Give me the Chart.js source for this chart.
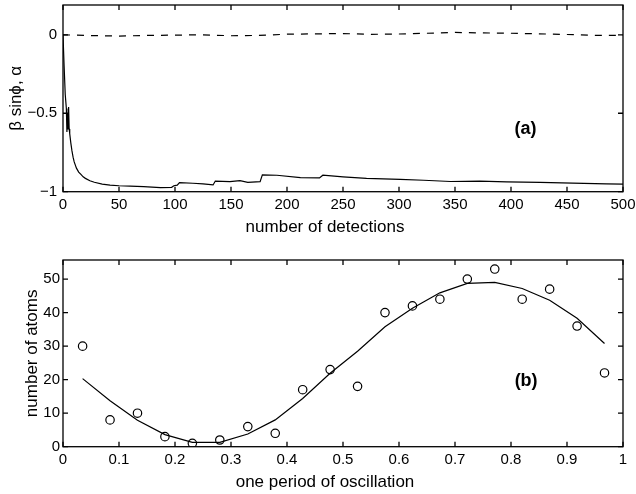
<!DOCTYPE html>
<html><head><meta charset="utf-8">
<script src="https://cdn.jsdelivr.net/npm/chart.js@4.4.0/dist/chart.umd.min.js"></script>
<style>
html,body{margin:0;padding:0;background:#fff;}
#c1{position:absolute;left:0;top:0;}
#c2{position:absolute;left:0;top:245px;}
</style></head><body>
<canvas id="c1" width="636" height="245"></canvas>
<canvas id="c2" width="636" height="249"></canvas>
<script>
// ---- panel (a) ----
const detections = [0,1,2,3,3.5,4,4.5,5,5.5,6,7,8,9,10,12,14,16,18,20,24,28,35,42,50,60,72,87,97,99,102,104,116,125,134,136,149,158,165,176,178,191,212,229,232,250,271,301,322,346,372,396,426,455,485,500];
const betaSinPhi = [0,-0.2,-0.38,-0.47,-0.62,-0.5,-0.6,-0.46,-0.6,-0.63,-0.69,-0.74,-0.78,-0.81,-0.85,-0.875,-0.89,-0.905,-0.915,-0.93,-0.94,-0.952,-0.958,-0.962,-0.965,-0.968,-0.974,-0.972,-0.962,-0.958,-0.942,-0.946,-0.95,-0.957,-0.932,-0.936,-0.93,-0.94,-0.936,-0.893,-0.895,-0.91,-0.912,-0.895,-0.905,-0.915,-0.922,-0.927,-0.935,-0.932,-0.937,-0.94,-0.945,-0.95,-0.952];
const alphaDetections = [0,25,50,75,100,125,150,175,200,225,250,275,300,325,350,375,400,425,450,475,500];
const alphaValues = [0,-0.005,-0.008,-0.004,-0.002,0,-0.006,-0.004,0.004,0.006,0.008,0.003,0.005,0.01,0.015,0.012,0.01,0.006,0.002,-0.003,-0.003];
const xTicksA = [0,50,100,150,200,250,300,350,400,450,500];
const yTicksA = [-1,-0.5,0];

// ---- panel (b) ----
const phase = [0.035,0.084,0.133,0.182,0.231,0.280,0.330,0.379,0.428,0.477,0.526,0.575,0.624,0.673,0.722,0.771,0.820,0.869,0.918,0.967];
const atomCounts = [30,8,10,3,1,2,6,4,17,23,18,40,42,44,50,53,44,47,36,22];
const fitCounts = [20.3,13.7,7.9,3.6,1.3,1.3,3.8,8,14.4,21.9,28.5,35.8,41.3,45.9,48.7,49,47.2,43.7,38.3,30.8];
const xTicksB = [0,0.1,0.2,0.3,0.4,0.5,0.6,0.7,0.8,0.9,1];
const yTicksB = [0,10,20,30,40,50];

const FONT = '"Liberation Sans", Arial, Helvetica, sans-serif';
const fmt = v => (v < 0 ? '\u2212' + Math.abs(v) : String(v));

const frameTicks = {
  id: 'frameTicks',
  afterDatasetsDraw(chart, args, opts) {
    const {ctx, chartArea: a, scales: {x, y}} = chart;
    ctx.save();
    ctx.strokeStyle = '#000';
    ctx.lineWidth = 1.3;
    ctx.strokeRect(a.left, a.top, a.right - a.left, a.bottom - a.top);
    const L = 5;
    ctx.beginPath();
    x.ticks.forEach(t => {
      const px = x.getPixelForValue(t.value);
      ctx.moveTo(px, a.bottom); ctx.lineTo(px, a.bottom - L);
      ctx.moveTo(px, a.top); ctx.lineTo(px, a.top + L);
    });
    y.ticks.forEach(t => {
      const py = y.getPixelForValue(t.value);
      ctx.moveTo(a.left, py); ctx.lineTo(a.left + L, py);
      ctx.moveTo(a.right, py); ctx.lineTo(a.right - L, py);
    });
    ctx.stroke();
    ctx.fillStyle = '#000';
    ctx.textAlign = 'center';
    ctx.textBaseline = 'middle';
    if (opts.label) {
      ctx.font = 'bold 18px ' + FONT;
      ctx.fillText(opts.label, x.getPixelForValue(opts.lx), y.getPixelForValue(opts.ly));
    }
    if (opts.xtitle) {
      ctx.font = '17px ' + FONT;
      ctx.fillText(opts.xtitle, (a.left + a.right) / 2 - 18, opts.xtitleY);
    }
    ctx.restore();
  }
};

function axes(cfg) {
  return {
    x: {
      type: 'linear', min: cfg.xmin, max: cfg.xmax,
      grid: {display: false, drawTicks: false},
      border: {display: false},
      afterBuildTicks: s => { s.ticks = cfg.xticks.map(v => ({value: v})); },
      afterFit: s => { s.height = cfg.xh; s.paddingLeft = 0; s.paddingRight = 0; },
      ticks: {color: '#000', font: {family: FONT, size: 15}, padding: cfg.xpad, maxRotation: 0, autoSkip: false, callback: fmt}
    },
    y: {
      type: 'linear', min: cfg.ymin, max: cfg.ymax,
      grid: {display: false, drawTicks: false},
      border: {display: false},
      afterBuildTicks: s => { s.ticks = cfg.yticks.map(v => ({value: v})); },
      afterFit: s => { s.width = 63; s.paddingTop = 0; s.paddingBottom = 0; },
      ticks: {color: '#000', font: {family: FONT, size: 15}, padding: cfg.ypad, autoSkip: false, callback: fmt},
      title: {display: true, text: cfg.ytitle, color: '#000', font: {family: FONT, size: 17}, padding: {top: cfg.ytpad, bottom: 0}}
    }
  };
}

new Chart(document.getElementById('c1'), {
  type: 'scatter',
  data: {
    datasets: [
      {data: detections.map((d, i) => ({x: d, y: betaSinPhi[i]})), showLine: true, borderColor: '#000', borderWidth: 1.2, pointRadius: 0, tension: 0},
      {data: alphaDetections.map((d, i) => ({x: d, y: alphaValues[i]})), showLine: true, borderColor: '#000', borderWidth: 1.2, borderDash: [7, 7], pointRadius: 0, tension: 0}
    ]
  },
  options: {
    responsive: false, animation: false, devicePixelRatio: 1,
    layout: {padding: {top: 5, right: 13, left: 0, bottom: 0}},
    plugins: {legend: {display: false}, tooltip: {enabled: false},
      frameTicks: {label: '(a)', lx: 413, ly: -0.6, xtitle: 'number of detections', xtitleY: 227}},
    scales: axes({xmin: 0, xmax: 500, ymin: -1, ymax: 0.19, xticks: xTicksA, yticks: yTicksA, xh: 53.3, xpad: 4, ypad: 6,
      ytitle: 'β sinϕ, α', ytpad: 6})
  },
  plugins: [frameTicks]
});

new Chart(document.getElementById('c2'), {
  type: 'scatter',
  data: {
    datasets: [
      {data: phase.map((p, i) => ({x: p, y: atomCounts[i]})), showLine: false, borderColor: '#000', backgroundColor: 'rgba(0,0,0,0)', borderWidth: 1.2, pointRadius: 4.2, pointStyle: 'circle'},
      {data: phase.map((p, i) => ({x: p, y: fitCounts[i]})), showLine: true, borderColor: '#000', borderWidth: 1.2, pointRadius: 0, tension: 0}
    ]
  },
  options: {
    responsive: false, animation: false, devicePixelRatio: 1,
    layout: {padding: {top: 15, right: 13, left: 0, bottom: 0}},
    plugins: {legend: {display: false}, tooltip: {enabled: false},
      frameTicks: {label: '(b)', lx: 0.827, ly: 19.6, xtitle: 'one period of oscillation', xtitleY: 237}},
    scales: axes({xmin: 0, xmax: 1, ymin: 0, ymax: 55.7, xticks: xTicksB, yticks: yTicksB, xh: 47.3, xpad: 4, ypad: 3,
      ytitle: 'number of atoms', ytpad: 22})
  },
  plugins: [frameTicks]
});
</script>
</body></html>
